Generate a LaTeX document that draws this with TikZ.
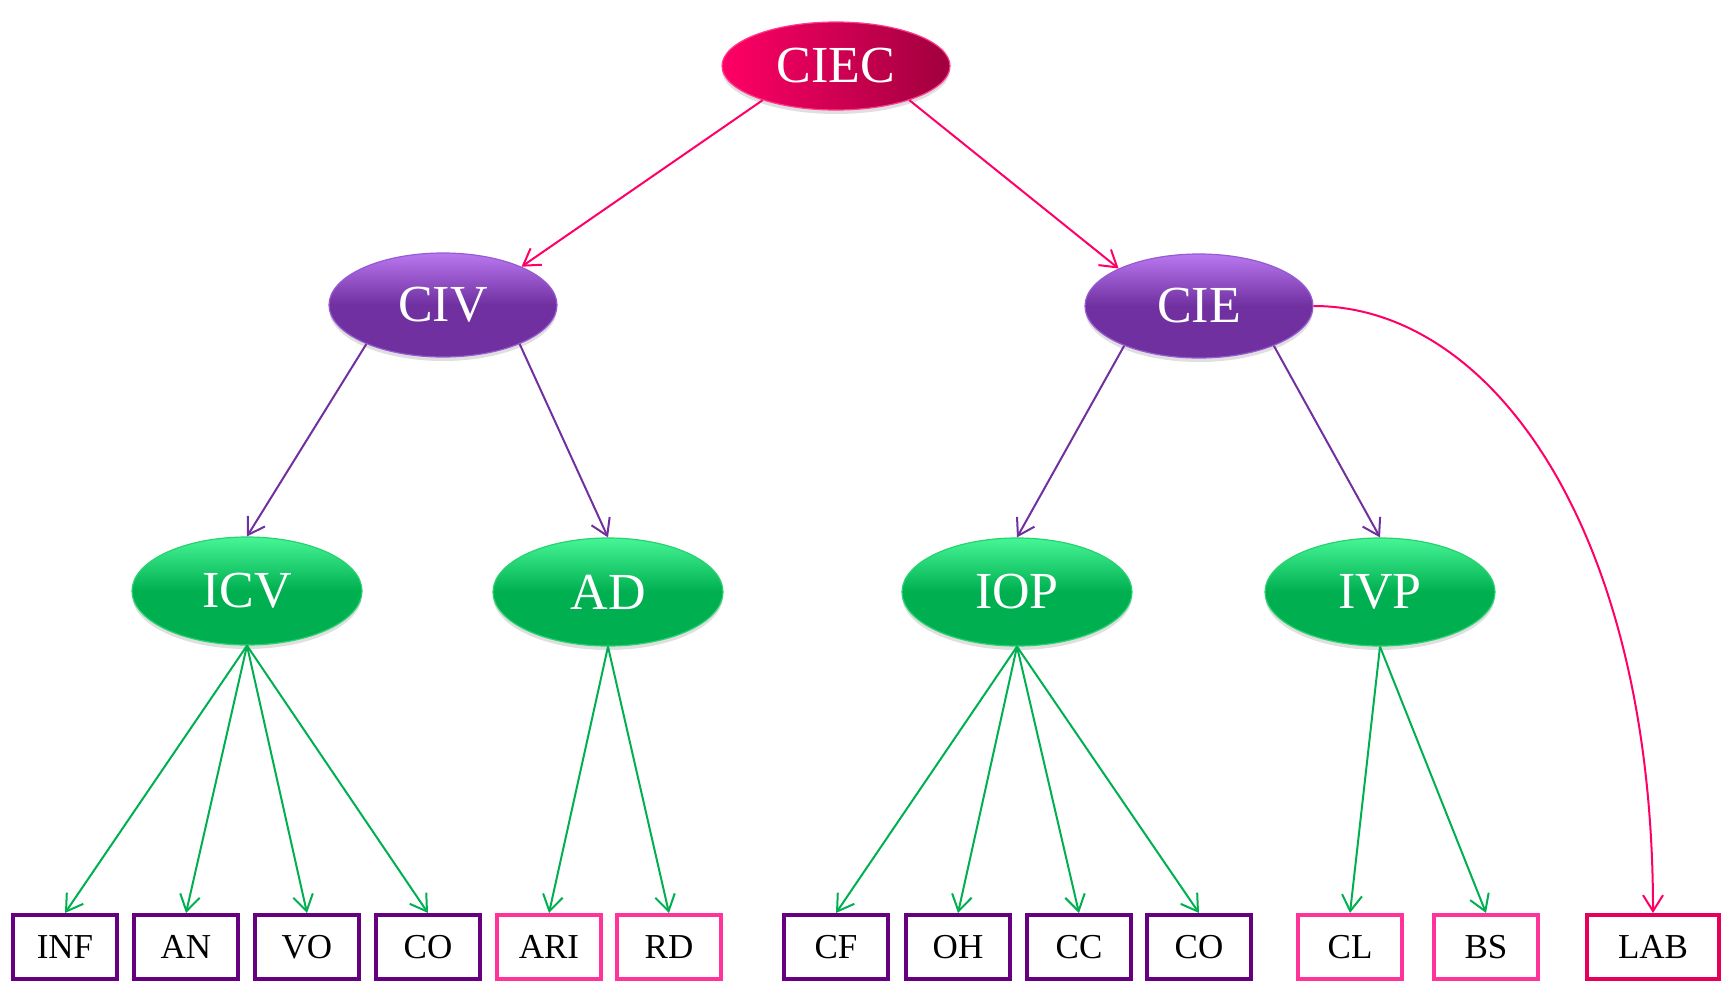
\documentclass[tikz,border=0pt]{standalone}
\usepackage{fontspec}
\setmainfont{Liberation Serif}
\usetikzlibrary{shapes.geometric, arrows.meta, shadows}
\definecolor{ciecpink}{RGB}{255,0,102}
\definecolor{ciecdark}{RGB}{160,0,62}
\definecolor{ciecline}{RGB}{255,60,140}
\definecolor{violetmain}{RGB}{112,48,160}
\definecolor{violettop}{RGB}{185,120,240}
\definecolor{violetline}{RGB}{150,90,210}
\definecolor{greenmain}{RGB}{0,176,80}
\definecolor{greentop}{RGB}{70,245,150}
\definecolor{greenline}{RGB}{40,210,110}
\definecolor{boxviolet}{RGB}{102,0,128}
\definecolor{boxpink}{RGB}{255,51,153}
\definecolor{boxred}{RGB}{230,0,92}
\tikzstyle{root} = [ellipse, minimum width=114pt, minimum height=44pt, inner sep=0pt, draw=ciecline, line width=0.6pt, left color=ciecpink, right color=ciecdark, text=white, font=\fontsize{26}{26}\selectfont, drop shadow={opacity=0.25, shadow xshift=0pt, shadow yshift=-2pt}]
\tikzstyle{branch} = [ellipse, minimum width=114pt, minimum height=52pt, inner sep=0pt, draw=violetline, line width=0.6pt, top color=violettop, bottom color=violetmain, middle color=violetmain, text=white, font=\fontsize{26}{26}\selectfont, drop shadow={opacity=0.25, shadow xshift=0pt, shadow yshift=-2pt}]
\tikzstyle{leaf} = [ellipse, minimum width=115pt, minimum height=54pt, inner sep=0pt, draw=greenline, line width=0.6pt, top color=greentop, bottom color=greenmain, middle color=greenmain, text=white, font=\fontsize{26}{26}\selectfont, drop shadow={opacity=0.25, shadow xshift=0pt, shadow yshift=-2pt}]
\tikzstyle{item} = [rectangle, minimum width=52pt, minimum height=32pt, inner sep=0pt, line width=2pt, fill=white, text=black, font=\fontsize{17.5}{17.5}\selectfont]
\tikzstyle{arrow} = [line width=1pt, -{Straight Barb[length=8pt,width=10pt]}]

\begin{document}
\begin{tikzpicture}[x=0.5pt, y=-0.5pt]
\useasboundingbox (0,0) rectangle (1728,980);

\node (ciec) [root] at (836,66) {CIEC};
\node (civ) [branch] at (443,305) {CIV};
\node (cie) [branch] at (1199,306) {CIE};

\node (icv) [leaf] at (247,591) {ICV};
\node (ad) [leaf] at (608,592) {AD};
\node (iop) [leaf] at (1017,592) {IOP};
\node (ivp) [leaf] at (1380,592) {IVP};

% bottom row
\node (inf) [item, draw=boxviolet] at (65,947) {INF};
\node (an) [item, draw=boxviolet] at (186,947) {AN};
\node (vo) [item, draw=boxviolet] at (307,947) {VO};
\node (co1) [item, draw=boxviolet] at (428,947) {CO};
\node (ari) [item, draw=boxpink] at (549,947) {ARI};
\node (rd) [item, draw=boxpink] at (669,947) {RD};
\node (cf) [item, draw=boxviolet] at (836,947) {CF};
\node (oh) [item, draw=boxviolet] at (958,947) {OH};
\node (cc) [item, draw=boxviolet] at (1079,947) {CC};
\node (co2) [item, draw=boxviolet] at (1199,947) {CO};
\node (cl) [item, draw=boxpink] at (1350,947) {CL};
\node (bs) [item, draw=boxpink] at (1486,947) {BS};
\node (lab) [item, draw=boxred, minimum width=66pt] at (1653,947) {LAB};

\draw [arrow, ciecpink] (ciec.205) -- (civ.26);
\draw [arrow, ciecpink] (ciec.335) -- (cie.155);

\draw [arrow, violetmain] (civ.207) -- (icv.north);
\draw [arrow, violetmain] (civ.333) -- (ad.north);
\draw [arrow, violetmain] (cie.208) -- (iop.north);
\draw [arrow, violetmain] (cie.332) -- (ivp.north);
\draw [arrow, ciecpink] (cie.east) .. controls +(180,0) and +(0,-380) .. (lab.north);

\foreach \b in {inf, an, vo, co1}
  \draw [arrow, greenmain] (icv.south) -- (\b.north);
\foreach \b in {ari, rd}
  \draw [arrow, greenmain] (ad.south) -- (\b.north);
\foreach \b in {cf, oh, cc, co2}
  \draw [arrow, greenmain] (iop.south) -- (\b.north);
\foreach \b in {cl, bs}
  \draw [arrow, greenmain] (ivp.south) -- (\b.north);

\end{tikzpicture}
\end{document}
